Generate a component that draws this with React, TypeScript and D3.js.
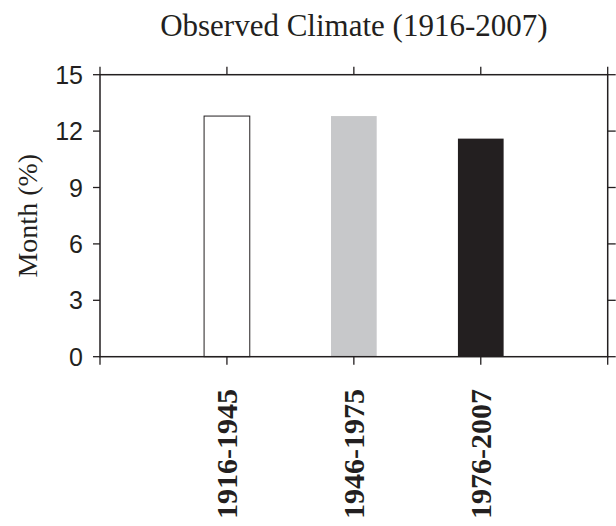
import React, { useEffect, useRef } from "react";
import * as d3 from "d3";

const periods = ["1916-1945", "1946-1975", "1976-2007"];
const monthPct = [12.8, 12.8, 11.6];
const barColors = ["#ffffff", "#c7c8ca", "#231f20"];
const yTicks = [0, 3, 6, 9, 12, 15];

const App: React.FC = () => {
  const ref = useRef<SVGSVGElement | null>(null);

  useEffect(() => {
    if (!ref.current) return;
    document.body.style.margin = "0";
    const svg = d3.select(ref.current);
    svg.selectAll("*").remove();

    const left = 100, right = 607.7, top = 74.7, bottom = 356.7;
    const ink = "#231f20";
    const serif = "'Liberation Serif', 'Times New Roman', serif";

    const x = d3.scaleLinear().domain([0, periods.length + 1]).range([left, right]);
    const y = d3.scaleLinear().domain([0, 15]).range([bottom, top]);
    const barW = 0.36;

    // bars
    svg
      .append("g")
      .selectAll("rect")
      .data(monthPct)
      .enter()
      .append("rect")
      .attr("x", (_, i) => x(i + 1 - barW / 2))
      .attr("width", x(barW) - x(0))
      .attr("y", (d) => y(d))
      .attr("height", (d) => y(0) - y(d))
      .attr("fill", (_, i) => barColors[i])
      .attr("stroke", (_, i) => (i === 0 ? ink : "none"))
      .attr("stroke-width", 1);

    const xTickVals = d3.range(0, periods.length + 2);

    // frame
    svg
      .append("rect")
      .attr("x", left)
      .attr("y", top)
      .attr("width", right - left)
      .attr("height", bottom - top)
      .attr("fill", "none")
      .attr("stroke", ink)
      .attr("stroke-width", 1.5);

    const tickLen = 8;
    const ticks = svg.append("g").attr("stroke", ink).attr("stroke-width", 1.3);
    yTicks.forEach((t) => {
      ticks.append("line").attr("x1", left - tickLen + 1).attr("x2", left).attr("y1", y(t)).attr("y2", y(t));
      ticks.append("line").attr("x1", right).attr("x2", right + tickLen).attr("y1", y(t)).attr("y2", y(t));
    });
    xTickVals.forEach((t) => {
      ticks.append("line").attr("x1", x(t)).attr("x2", x(t)).attr("y1", bottom).attr("y2", bottom + tickLen);
      ticks.append("line").attr("x1", x(t)).attr("x2", x(t)).attr("y1", top - tickLen).attr("y2", top);
    });

    // y tick labels
    svg
      .append("g")
      .selectAll("text")
      .data(yTicks)
      .enter()
      .append("text")
      .attr("x", 83)
      .attr("y", (d) => y(d))
      .attr("dy", "0.36em")
      .attr("text-anchor", "end")
      .style("font-family", "'Liberation Sans', Arial, sans-serif")
      .style("font-size", "25px")
      .attr("fill", ink)
      .text((d) => d);

    // x labels
    svg
      .append("g")
      .selectAll("text")
      .data(periods)
      .enter()
      .append("text")
      .attr("transform", (_, i) => `translate(${x(i + 1)}, 389) rotate(-90)`)
      .attr("dy", "0.35em")
      .attr("text-anchor", "end")
      .style("font-family", serif)
      .style("font-weight", "bold")
      .style("font-size", "30px")
      .attr("fill", ink)
      .text((d) => d);

    // y label
    svg
      .append("text")
      .attr("transform", `translate(37, ${(top + bottom) / 2}) rotate(-90)`)
      .attr("text-anchor", "middle")
      .style("font-family", serif)
      .style("font-size", "28px")
      .attr("fill", ink)
      .text("Month (%)");

    // title
    svg
      .append("text")
      .attr("x", (left + right) / 2)
      .attr("y", 36)
      .attr("text-anchor", "middle")
      .style("font-family", serif)
      .style("font-size", "31px")
      .attr("fill", ink)
      .text("Observed Climate (1916-2007)");
  }, []);

  return <svg ref={ref} width={616} height={526} style={{ display: "block", background: "#fff" }} />;
};

export default App;
